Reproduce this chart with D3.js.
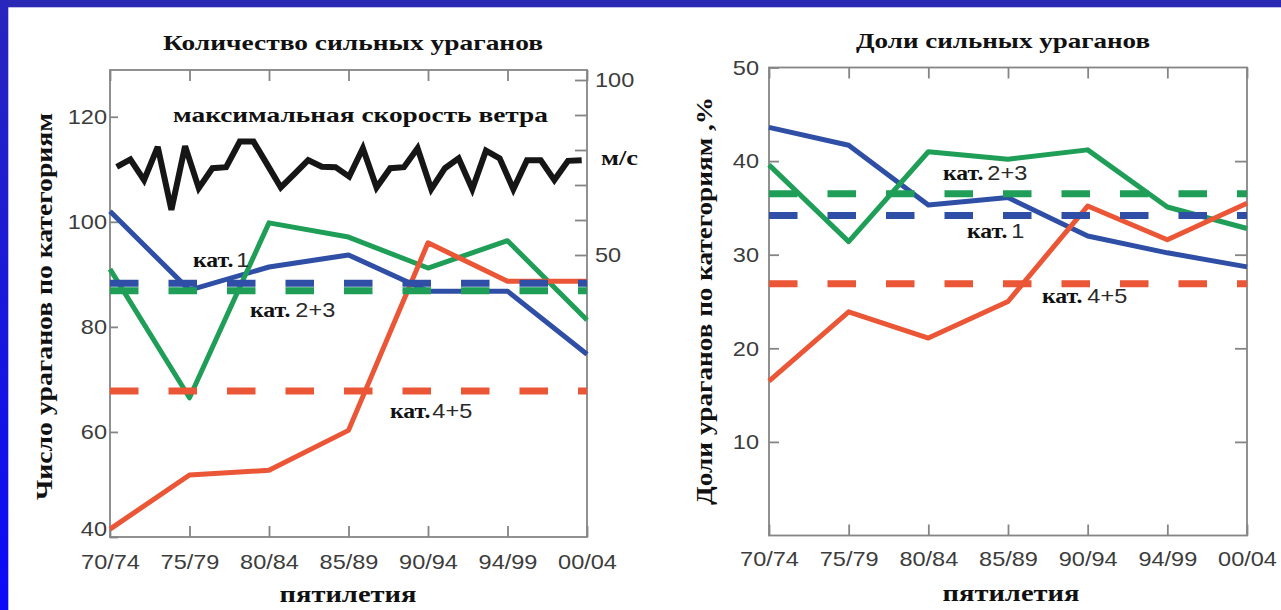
<!DOCTYPE html>
<html>
<head>
<meta charset="utf-8">
<script src="https://cdn.jsdelivr.net/npm/d3@7"></script>
<style>
  html, body { margin: 0; padding: 0; background: #fff; }
  svg { display: block; }
</style>
</head>
<body>
<svg id="chart" width="1281" height="610"></svg>
<script>
// Five-year periods on the x axis
const periods = ["70/74", "75/79", "80/84", "85/89", "90/94", "94/99", "00/04"];

// Number of hurricanes per category (left panel)
const countCat1  = [102.0, 87.0, 91.4, 93.7, 86.8, 86.8, 74.8];
const countCat23 = [91.0, 66.5, 99.8, 97.1, 91.2, 96.4, 81.3];
const countCat45 = [41.5, 51.8, 52.7, 60.3, 96.0, 88.7, 88.7];
const countMean  = { cat1: 88.3, cat23: 86.9, cat45: 67.8 };

// Share of hurricanes per category, % (right panel)
const shareCat1  = [43.6, 41.7, 35.3, 36.1, 32.0, 30.2, 28.7];
const shareCat23 = [39.6, 31.4, 41.0, 40.2, 41.2, 35.1, 32.8];
const shareCat45 = [16.5, 23.9, 21.1, 25.0, 35.2, 31.6, 35.5];
const shareMean  = { cat1: 34.2, cat23: 36.5, cat45: 26.9 };

// Annual maximum wind speed, m/s
const windYears = d3.range(1970, 2005);
const windSpeed = [75.2, 77.3, 71.4, 80.9, 62.9, 81.1, 69.1, 74.8, 75.1, 82.4,
                   82.4, 75.9, 69.3, 73.2, 77.1, 75.2, 75.1, 72.4, 80.5, 69.3,
                   74.8, 75.1, 80.5, 68.8, 74.8, 77.6, 68.8, 79.8, 77.6, 68.8,
                   77.1, 77.1, 71.4, 76.9, 77.1];

// Tick values
const countTicks = [40, 60, 80, 100, 120];
const windTicks  = [50, 60, 70, 80, 90, 100];
const windLabels = [50, 100];
const shareTicks = [10, 20, 30, 40, 50];

const COL = { cat1: "#2e4fa5", cat23: "#1f9e58", cat45: "#ea5636", wind: "#161616" };
const FRAME = "#858585";
const SERIF = "'Liberation Serif', 'Times New Roman', serif";
const SANS = "'Liberation Sans', Arial, sans-serif";

const svg = d3.select("#chart");

// Blue border strips
const defs = svg.append("defs");
const grad = defs.append("linearGradient").attr("id", "edge")
  .attr("x1", 0).attr("y1", 0).attr("x2", 0).attr("y2", 1);
grad.append("stop").attr("offset", "0%").attr("stop-color", "#2826bd");
grad.append("stop").attr("offset", "100%").attr("stop-color", "#0a0af8");
svg.append("rect").attr("x", 0).attr("y", 0).attr("width", 1281).attr("height", 7.3).attr("fill", "#2a29b6");
svg.append("rect").attr("x", 0).attr("y", 0).attr("width", 8.3).attr("height", 610).attr("fill", "url(#edge)");

function stretch(sel, k) {
  sel.each(function () {
    const w = this.getComputedTextLength();
    this.setAttribute("textLength", w * k);
    this.setAttribute("lengthAdjust", "spacingAndGlyphs");
  });
}

function styleAxis(g, size) {
  g.select(".domain").remove();
  g.selectAll(".tick line").attr("stroke", FRAME).attr("stroke-width", 1.8);
  g.selectAll(".tick text")
    .attr("fill", "#3c3c3c")
    .style("font-family", SANS)
    .style("font-size", (size || 21) + "px");
  stretch(g.selectAll(".tick text"), 1.12);
}

function serifText(x, y, str, size, width, anchor) {
  const t = svg.append("text")
    .attr("x", x).attr("y", y)
    .attr("text-anchor", anchor || "middle")
    .style("font-family", SERIF).style("font-weight", "bold")
    .style("font-size", size + "px")
    .attr("fill", "#111")
    .text(str);
  if (width) t.attr("textLength", width).attr("lengthAdjust", "spacingAndGlyphs");
  return t;
}

// "кат." in serif followed by the category number in sans
function catLabel(x, y, num, gap) {
  const a = svg.append("text").attr("x", x).attr("y", y)
    .style("font-family", SERIF).style("font-weight", "bold").style("font-size", "21px")
    .attr("fill", "#111").text("кат.");
  stretch(a, 1.13);
  const w = +a.attr("textLength");
  const b = svg.append("text").attr("x", x + w + gap).attr("y", y)
    .style("font-family", SANS).style("font-size", "21px")
    .attr("fill", "#2a2a2a").text(num);
  stretch(b, 1.12);
}

function drawPanel(p) {
  const { x0, x1, yTop, yBot, y, series, means } = p;
  const x = d3.scalePoint().domain(periods).range([x0, x1]);

  // frame
  svg.append("rect").attr("x", x0).attr("y", yTop)
    .attr("width", x1 - x0).attr("height", yBot - yTop)
    .attr("fill", "none").attr("stroke", FRAME).attr("stroke-width", 1.8);

  // category axes (bottom with labels, top ticks only)
  const gb = svg.append("g").attr("transform", `translate(0,${yBot})`)
    .call(d3.axisBottom(x).tickSize(-11).tickPadding(p.xPad));
  styleAxis(gb);
  const gt = svg.append("g").attr("transform", `translate(0,${yTop})`)
    .call(d3.axisTop(x).tickSize(-11).tickFormat(""));
  styleAxis(gt);

  // value axis on the left
  const gl = svg.append("g").attr("transform", `translate(${x0},0)`)
    .call(d3.axisLeft(y).tickValues(p.ticks).tickSize(-p.leftTick).tickPadding(p.yPad).tickFormat(d3.format("d")));
  styleAxis(gl);
  if (p.lowLabelShift) {
    gl.selectAll(".tick").filter(d => d === p.ticks[0]).select("text").attr("y", -p.lowLabelShift);
  }
  if (p.rightTicks) {
    const gr = svg.append("g").attr("transform", `translate(${x1},0)`)
      .call(d3.axisRight(y).tickValues(p.rightTicks).tickSize(-12).tickFormat(""));
    styleAxis(gr);
  }

  const line = d3.line().x((d, i) => x(periods[i])).y(d => y(d)).curve(d3.curveLinear);

  // solid series
  ["cat1", "cat23", "cat45"].forEach(k => {
    svg.append("path").datum(series[k])
      .attr("d", line).attr("fill", "none")
      .attr("stroke", COL[k]).attr("stroke-width", 5)
      .attr("stroke-linejoin", "round");
  });
  // period means as dashed lines
  ["cat45", "cat1", "cat23"].forEach(k => {
    svg.append("line")
      .attr("x1", x0).attr("x2", x1)
      .attr("y1", y(means[k])).attr("y2", y(means[k]))
      .attr("stroke", COL[k]).attr("stroke-width", 7)
      .attr("stroke-dasharray", "28.5,30");
  });
  return x;
}

// ---------- left panel: counts ----------
const L = { x0: 110, x1: 587, yTop: 70, yBot: 537 };
const yCount = d3.scaleLinear().domain([40, 128.9]).range([L.yBot, L.yTop]);
drawPanel({
  ...L, y: yCount, ticks: countTicks, leftTick: 8, yPad: 3, xPad: 17, lowLabelShift: 8,
  series: { cat1: countCat1, cat23: countCat23, cat45: countCat45 },
  means: countMean
});

// wind speed axis on the right of the left panel
const yWind = d3.scaleLinear().domain([50, 100]).range([255, 80]);
const gw = svg.append("g").attr("transform", `translate(${L.x1},0)`)
  .call(d3.axisRight(yWind).tickValues(windTicks).tickSize(-12).tickPadding(7)
    .tickFormat(d => windLabels.includes(d) ? d : ""));
styleAxis(gw);
gw.selectAll(".tick text").attr("x", 8);

const xYear = d3.scaleLinear().domain([1970, 2004]).range([L.x0 + 6.7, L.x1 - 5.3]);
svg.append("path").datum(windSpeed)
  .attr("d", d3.line().x((d, i) => xYear(windYears[i])).y(d => yWind(d)))
  .attr("fill", "none").attr("stroke", COL.wind).attr("stroke-width", 6)
  .attr("stroke-linejoin", "miter").attr("stroke-miterlimit", 3);

serifText(353, 50, "Количество сильных ураганов", 21, 380);
serifText(360.5, 122, "максимальная скорость ветра", 21, 375);
serifText(601, 165, "м/с", 20, 37, "start");
serifText(348, 602, "пятилетия", 23, 137);
svg.append("text")
  .attr("transform", "translate(52,306.5) rotate(-90)")
  .attr("text-anchor", "middle")
  .style("font-family", SERIF).style("font-weight", "bold").style("font-size", "23px")
  .attr("fill", "#111")
  .attr("textLength", 387).attr("lengthAdjust", "spacingAndGlyphs")
  .text("Число ураганов по категориям");

catLabel(193, 267, "1", 3);
catLabel(250, 317, "2+3", 5);
catLabel(390, 418, "4+5", 2);

// ---------- right panel: shares ----------
const R = { x0: 769, x1: 1247, yTop: 67.5, yBot: 535.5 };
const yShare = d3.scaleLinear().domain([0, 50]).range([R.yBot, R.yTop]);
drawPanel({
  ...R, y: yShare, ticks: shareTicks, leftTick: 10, yPad: 10, xPad: 16,
  rightTicks: [10, 20, 30, 40],
  series: { cat1: shareCat1, cat23: shareCat23, cat45: shareCat45 },
  means: shareMean
});

serifText(1003, 48, "Доли сильных ураганов", 21, 294);
serifText(1011, 601, "пятилетия", 23, 137);
svg.append("text")
  .attr("transform", "translate(712,301) rotate(-90)")
  .attr("text-anchor", "middle")
  .style("font-family", SERIF).style("font-weight", "bold").style("font-size", "23px")
  .attr("fill", "#111")
  .attr("textLength", 408).attr("lengthAdjust", "spacingAndGlyphs")
  .text("Доли ураганов по категориям ,%");

catLabel(943, 180, "2+3", 4);
catLabel(967, 238, "1", 4);
catLabel(1042, 303, "4+5", 5);
</script>
</body>
</html>
